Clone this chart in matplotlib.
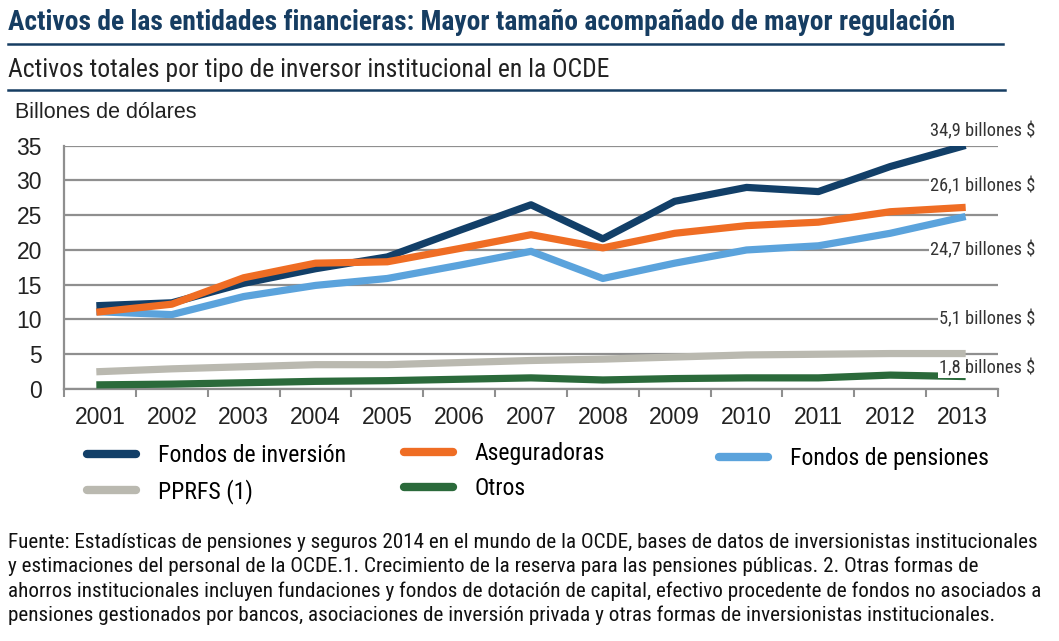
import matplotlib
matplotlib.use("Agg")
import matplotlib.pyplot as plt
import matplotlib.transforms as mtransforms
from matplotlib.lines import Line2D

years = ["2001", "2002", "2003", "2004", "2005", "2006", "2007",
         "2008", "2009", "2010", "2011", "2012", "2013"]

fondos_inversion = [12.0, 12.4, 15.2, 17.3, 19.0, 22.8, 26.5, 21.6, 27.0, 29.0, 28.4, 32.0, 34.9]
aseguradoras = [11.1, 12.2, 16.0, 18.1, 18.3, 20.2, 22.2, 20.3, 22.4, 23.5, 24.0, 25.5, 26.1]
fondos_pensiones = [11.1, 10.7, 13.3, 14.9, 15.9, 17.8, 19.8, 15.9, 18.1, 20.0, 20.6, 22.4, 24.7]
pprfs = [2.5, 2.9, 3.2, 3.5, 3.5, 3.8, 4.1, 4.3, 4.6, 4.9, 5.0, 5.1, 5.1]
otros = [0.6, 0.7, 0.9, 1.1, 1.2, 1.4, 1.6, 1.3, 1.5, 1.6, 1.6, 2.0, 1.8]

end_labels = ["34,9 billones $", "26,1 billones $", "24,7 billones $",
              "5,1 billones $", "1,8 billones $"]
end_label_y = [37.1, 29.1, 20.0, 10.1, 3.0]

navy = "#123f68"
orange = "#ef6d24"
light_blue = "#5ba3dc"
gray = "#bab9b0"
green = "#2b6a3b"
title_col = "#163d62"
grid_col = "#8f8f8f"

narrow = ["Roboto Condensed", "PT Sans Narrow", "Liberation Sans Narrow", "DejaVu Sans"]
sans = ["Liberation Sans", "Arimo", "DejaVu Sans"]

W, H = 1059, 641
fig = plt.figure(figsize=(W / 100, H / 100), dpi=100)
renderer = fig.canvas.get_renderer()


def fit_size(text, target_px, **kw):
    # font size so that text spans target_px pixels
    t = fig.text(0, 0, text, fontsize=10, **kw)
    w = t.get_window_extent(renderer).width
    t.remove()
    return 10 * target_px / w


ax = fig.add_axes([64 / W, 1 - 389 / H, 934 / W, 243.3 / H])

x = list(range(len(years)))
lw = 5.2
l_fi, = ax.plot(x, fondos_inversion, color=navy, lw=lw, zorder=5)
l_pe, = ax.plot(x, fondos_pensiones, color=light_blue, lw=lw, zorder=4)
l_as, = ax.plot(x, aseguradoras, color=orange, lw=lw, zorder=6)
l_pp, = ax.plot(x, pprfs, color=gray, lw=lw, zorder=4)
l_ot, = ax.plot(x, otros, color=green, lw=lw, zorder=4)

ax.set_xlim(-0.5, len(years) - 0.5)
ax.set_ylim(0, 35)
ax.set_yticks(range(0, 36, 5))
ax.set_xticks(x)
ax.set_xticklabels(years)
ax.set_xticks([i - 0.5 for i in range(len(years) + 1)], minor=True)
ax.tick_params(axis="x", which="major", length=0, pad=12, labelsize=16.5)
ax.tick_params(axis="x", which="minor", length=6, width=1.5, color=grid_col, direction="out")
ax.tick_params(axis="y", length=0, pad=16, labelsize=16.5)
for lab in ax.get_xticklabels() + ax.get_yticklabels():
    lab.set_family(sans)
    lab.set_color("#222222")

ax.grid(axis="y", color=grid_col, lw=1.6)
ax.set_axisbelow(True)
for s in ["top", "right"]:
    ax.spines[s].set_visible(False)
for s in ["left", "bottom"]:
    ax.spines[s].set_color(grid_col)
    ax.spines[s].set_linewidth(1.6)

# labels at the end of lines
ann_size = fit_size("34,9 billones $", 105, family=narrow)
trans = mtransforms.blended_transform_factory(fig.transFigure, ax.transData)
for txt, yy in zip(end_labels, end_label_y):
    ax.text(1035 / W, yy, txt, transform=trans, ha="right", va="center",
            fontsize=ann_size, family=narrow, color="#333333", clip_on=False,
            bbox=dict(facecolor="white", edgecolor="none", pad=0.5), zorder=7)

fig.text(15 / W, 1 - 112 / H, "Billones de dólares", fontsize=15.5,
         family=sans, va="center", color="#222222")

# header
title = "Activos de las entidades financieras: Mayor tamaño acompañado de mayor regulación"
subtitle = "Activos totales por tipo de inversor institucional en la OCDE"
fig.text(8 / W, 1 - 22 / H, title,
         fontsize=fit_size(title, 949, family=narrow, fontweight="bold"),
         fontweight="bold", family=narrow, color=title_col, va="center")
fig.text(8 / W, 1 - 70 / H, subtitle,
         fontsize=fit_size(subtitle, 597, family=narrow),
         family=narrow, color="#222222", va="center")
fig.add_artist(Line2D([8 / W, 1003 / W], [1 - 44 / H] * 2, color=title_col, lw=1.8))
fig.add_artist(Line2D([8 / W, 1005 / W], [1 - 90 / H] * 2, color=title_col, lw=1.8))

# legend
leg_size = fit_size("Fondos de inversión", 188, family=narrow)
em = leg_size * 100 / 72
leg_kw = dict(frameon=False, prop={"family": narrow, "size": leg_size}, handlelength=49 / em,
              handletextpad=22 / em, labelspacing=0.5, borderaxespad=0, borderpad=0)
leg1 = fig.legend([l_fi, l_pp], ["Fondos de inversión", "PPRFS (1)"],
                  loc="upper left", bbox_to_anchor=(87 / W, 1 - 444 / H), **leg_kw)
leg2 = fig.legend([l_as, l_ot], ["Aseguradoras", "Otros"],
                  loc="upper left", bbox_to_anchor=(404 / W, 1 - 442 / H), **leg_kw)
leg3 = fig.legend([l_pe], ["Fondos de pensiones"],
                  loc="upper left", bbox_to_anchor=(719 / W, 1 - 447 / H), **leg_kw)
for leg in (leg1, leg2, leg3):
    for h in leg.legend_handles:
        h.set_linewidth(6)
        h.set_solid_capstyle("round")

footer = [
    "Fuente: Estadísticas de pensiones y seguros 2014 en el mundo de la OCDE, bases de datos de inversionistas institucionales",
    "y estimaciones del personal de la OCDE.1. Crecimiento de la reserva para las pensiones públicas. 2. Otras formas de",
    "ahorros institucionales incluyen fundaciones y fondos de dotación de capital, efectivo procedente de fondos no asociados a",
    "pensiones gestionados por bancos, asociaciones de inversión privada y otras formas de inversionistas institucionales.",
]
foot_size = fit_size(footer[0], 1020, family=narrow)
for i, line in enumerate(footer):
    fig.text(8 / W, 1 - (542 + i * 24.5) / H, line, fontsize=foot_size,
             family=narrow, color="#111111", va="center")

fig.savefig("out.png", dpi=100)
